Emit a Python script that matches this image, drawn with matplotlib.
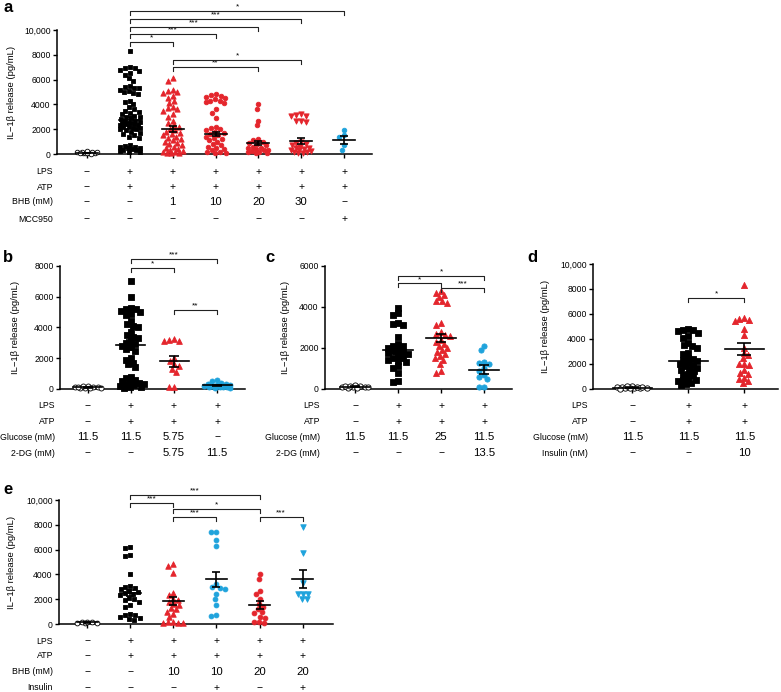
import numpy as np
import matplotlib
matplotlib.use("Agg")
import matplotlib.pyplot as plt
from matplotlib.transforms import blended_transform_factory

plt.rcParams['font.family'] = ['Liberation Sans', 'DejaVu Sans']

RED = '#e4252c'
BLUE = '#1fa3dc'
BLACK = '#000000'

W, H = 781, 692

# ---------------- data ----------------
# Panel a
a_ctrl = [50, 80, 100, 120, 150, 180, 200, 60, 90, 140, 250, 30]
a_lps = [8300, 7000, 6950, 6900, 6800, 6700, 6500, 6400, 6100, 5900,
         5500, 5400, 5300, 5300, 5200, 5100, 5000, 4900, 4800,
         4300, 4200, 4000, 3800, 3600, 3500, 3400, 3300, 3200, 3100, 3000, 3000,
         2900, 2800, 2700, 2700, 2600, 2500, 2500, 2400, 2400, 2300, 2300, 2200,
         2200, 2100, 2100, 2000, 2000, 1900, 1800, 1700, 1600, 1500, 1400, 1300,
         700, 650, 600, 550, 500, 450, 400, 350, 300, 250, 200, 150]
a_bhb1 = [6100, 5900, 5200, 5100, 5000, 4900, 4700, 4500, 4300, 4100, 3800, 3700,
          3600, 3500, 3200, 3000, 2700, 2500, 2300, 2200, 2000, 1900, 1800, 1700,
          1600, 1500, 1400, 1300, 1200, 1100, 1000, 900, 800, 700, 600, 500, 400,
          300, 250, 200, 150, 100, 100, 50]
a_bhb10 = [4800, 4750, 4700, 4600, 4500, 4400, 4300, 4250, 4200, 4100, 3600, 3300,
           2900, 2200, 2100, 2000, 1900, 1800, 1700, 1600, 1500, 1400, 1300, 1200,
           1100, 1000, 800, 700, 600, 500, 400, 300, 200, 150, 100, 50]
a_bhb20 = [4000, 3600, 2700, 2300, 1200, 1100, 1000, 900, 800, 700, 600, 500, 450,
           400, 350, 300, 250, 200, 150, 100, 50]
a_bhb30 = [3200, 3150, 3100, 3050, 2700, 2650, 2600, 1000, 900, 800, 700, 600, 500,
           450, 400, 350, 300, 250, 200, 150, 100, 50]
a_mcc = [1950, 1500, 1350, 700, 350]
a_means = [100, 2750, 2030, 1640, 890, 1070, 1120]
a_sems = [20, 200, 260, 170, 190, 250, 310]

# Panel b
b_ctrl = [50, 80, 100, 150, 120, 200, 60, 90, 140, 170]
b_lps = [7000, 6000, 5300, 5200, 5200, 5100, 5000, 4900, 4800, 4400, 4200, 4100,
         4000, 3700, 3500, 3400, 3300, 3100, 3000, 2900, 2800, 2700, 2600, 2500,
         2000, 1900, 1700, 1600, 1400, 800, 700, 600, 500, 450, 400, 350, 300,
         250, 200, 150, 100, 50]
b_glc = [3250, 3200, 3150, 3100, 2000, 1800, 1600, 1500, 1300, 1100, 100, 100]
b_2dg = [600, 500, 400, 350, 300, 250, 250, 200, 200, 150, 150, 100, 100, 50, 50]
b_means = [110, 2850, 1790, 230]
b_sems = [15, 320, 340, 40]

# Panel c
c_ctrl = [50, 80, 100, 150, 120, 200, 60, 90, 140, 170]
c_lps = [3950, 3700, 3600, 3200, 3150, 3100, 2550, 2200, 2100, 2100, 2000, 1900,
         1850, 1800, 1750, 1700, 1600, 1500, 1500, 1400, 1350, 1300, 1100, 1000,
         800, 400, 350]
c_glc25 = [4800, 4700, 4600, 4500, 4300, 4300, 4200, 3200, 3100, 2800, 2700, 2650,
           2600, 2400, 2300, 2200, 2100, 2000, 1900, 1800, 1700, 1600, 1500, 1400,
           1200, 900, 800]
c_2dg = [2100, 1900, 1300, 1250, 1200, 1000, 900, 700, 600, 500, 100, 100]
c_means = [110, 1880, 2500, 950]
c_sems = [15, 180, 200, 200]

# Panel d
d_ctrl = [50, 80, 100, 150, 120, 250, 60, 90, 140, 170, 200, 30]
d_lps = [4800, 4750, 4700, 4600, 4500, 4200, 4100, 3700, 3500, 3400, 3300, 2900,
         2800, 2500, 2400, 2300, 2200, 2100, 2000, 1900, 1800, 1700, 1600, 1500,
         1400, 1200, 1100, 1000, 800, 700, 700, 600, 500, 400, 300]
d_ins = [8300, 5700, 5600, 5500, 5400, 4800, 4300, 3300, 2900, 2700, 2500, 2000,
         2000, 1900, 1500, 1300, 1200, 900, 800, 600, 500]
d_means = [110, 2200, 3200]
d_sems = [15, 230, 450]

# Panel e
e_ctrl = [60, 100, 150, 200, 120, 180]
e_lps = [6200, 6100, 5600, 5500, 4000, 3100, 3000, 2900, 2800, 2700, 2600, 2500,
         2400, 2300, 2100, 2000, 1900, 1800, 1500, 1400, 800, 700, 700, 600, 500,
         400, 300]
e_bhb10 = [4800, 4700, 4100, 2500, 2300, 2000, 1900, 1800, 1600, 1500, 1300, 1200,
           1000, 800, 600, 200, 150, 100, 100, 100]
e_bhb10_ins = [7400, 7400, 6800, 6300, 3200, 3000, 2900, 2800, 2400, 2000, 1500,
               700, 650]
e_bhb20 = [4000, 3600, 2700, 2400, 2000, 1600, 1400, 1200, 1000, 900, 600, 500,
           200, 200, 100]
e_bhb20_ins = [7800, 5700, 3300, 2400, 2400, 2400, 2000, 2000]
e_means = [130, 2500, 1850, 3600, 1500, 3650]
e_sems = [20, 250, 350, 620, 320, 730]

# condition rows
a_rows = [("LPS", ["−", "+", "+", "+", "+", "+", "+"]),
          ("ATP", ["−", "+", "+", "+", "+", "+", "+"]),
          ("BHB (mM)", ["−", "−", "1", "10", "20", "30", "−"]),
          ("MCC950", ["−", "−", "−", "−", "−", "−", "+"])]
b_rows = [("LPS", ["−", "+", "+", "+"]),
          ("ATP", ["−", "+", "+", "+"]),
          ("Glucose (mM)", ["11.5", "11.5", "5.75", "−"]),
          ("2-DG (mM)", ["−", "−", "5.75", "11.5"])]
c_rows = [("LPS", ["−", "+", "+", "+"]),
          ("ATP", ["−", "+", "+", "+"]),
          ("Glucose (mM)", ["11.5", "11.5", "25", "11.5"]),
          ("2-DG (mM)", ["−", "−", "−", "13.5"])]
d_rows = [("LPS", ["−", "+", "+"]),
          ("ATP", ["−", "+", "+"]),
          ("Glucose (mM)", ["11.5", "11.5", "11.5"]),
          ("Insulin (nM)", ["−", "−", "10"])]
e_rows = [("LPS", ["−", "+", "+", "+", "+", "+"]),
          ("ATP", ["−", "+", "+", "+", "+", "+"]),
          ("BHB (mM)", ["−", "−", "10", "10", "20", "20"]),
          ("Insulin", ["−", "−", "−", "+", "−", "+"])]

# significance brackets: (from, to, level, label)
a_sig = [(1, 6, 11550, "*"), (1, 5, 10900, "***"), (1, 4, 10250, "***"),
         (1, 3, 9650, "***"), (1, 2, 9050, "*"), (2, 5, 7600, "*"), (2, 4, 7000, "**")]
b_sig = [(1, 3, 8450, "***"), (1, 2, 7870, "*"), (2, 3, 5140, "**")]
c_sig = [(1, 3, 5500, "*"), (1, 2, 5150, "*"), (2, 3, 4950, "***")]
d_sig = [(1, 2, 7250, "*")]
e_sig = [(1, 4, 10400, "***"), (1, 2, 9750, "***"), (2, 4, 9250, "*"),
         (2, 3, 8650, "***"), (4, 5, 8650, "***")]

OPEN = dict(marker='o', fc='white', ec=BLACK)
SQ = dict(marker='s', fc=BLACK, ec=BLACK)
TRI = dict(marker='^', fc=RED, ec=RED)
RC = dict(marker='o', fc=RED, ec=RED)
DTRI = dict(marker='v', fc=RED, ec=RED)
BC = dict(marker='o', fc=BLUE, ec=BLUE)
BDT = dict(marker='v', fc=BLUE, ec=BLUE)

fig = plt.figure(figsize=(W / 100, H / 100), dpi=100)


def px_axes(left, right, top, bottom):
    return fig.add_axes([left / W, 1 - bottom / H, (right - left) / W, (bottom - top) / H])


def swarm(values, d, wmax, ppx, ppy):
    """Column scatter: each point placed at the x nearest the centre where it does
    not overlap earlier points; limited to +/- wmax px (overlap allowed beyond)."""
    values = np.asarray(values, float)
    order = np.argsort(-values)
    grid = np.arange(-wmax, wmax + 0.01, 0.5)
    grid = grid[np.lexsort((grid, np.abs(grid)))]
    placed_x, placed_y = [], []
    offs = np.zeros(len(values))
    for i in order:
        y = values[i] * ppy
        if placed_x:
            px = np.array(placed_x)
            py = np.array(placed_y)
            dist = np.sqrt((grid[:, None] - px[None, :]) ** 2 + (y - py[None, :]) ** 2).min(axis=1)
            ok = np.where(dist >= d)[0]
            c = grid[ok[0]] if len(ok) else grid[np.argmax(dist)]
        else:
            c = 0.0
        placed_x.append(c)
        placed_y.append(y)
        offs[i] = c
    return offs / ppx


def fmt(v):
    v = int(v)
    return f"{v:,}" if v >= 10000 else str(v)


def panel(ax, groups, styles, means, sems, ymax, ylabel_x, left_px, width_px, rows,
          label_right_px, row_ys, sig, xlim, wmax, mhalf, cap, msz):
    n = len(groups)
    ax.set_xlim(*xlim)
    ax.set_ylim(0, ymax)
    p0 = ax.transData.transform((0, 0))
    p1 = ax.transData.transform((1, 1))
    ppx = p1[0] - p0[0]
    ppy = p1[1] - p0[1]
    for i, (g, st) in enumerate(zip(groups, styles)):
        offs = swarm(g, 5.0, wmax, ppx, ppy)
        ms = msz * 1.3 if st['marker'] in ('^', 'v') else msz
        ax.scatter(i + offs, g, s=ms, marker=st['marker'], facecolors=st['fc'],
                   edgecolors=st['ec'], linewidths=0.6, zorder=3, clip_on=False)
    hw = mhalf / ppx
    for i, (m, s) in enumerate(zip(means, sems)):
        ax.plot([i - hw, i + hw], [m, m], color=BLACK, lw=1.2, zorder=4, clip_on=False)
        ax.errorbar([i], [m], yerr=[s], fmt='none', ecolor=BLACK, elinewidth=1.2,
                    capsize=cap, capthick=1.2, zorder=4)
    ax.spines['top'].set_visible(False)
    ax.spines['right'].set_visible(False)
    ax.spines['left'].set_linewidth(1.1)
    ax.spines['bottom'].set_linewidth(1.1)
    ax.set_yticks(np.arange(0, ymax + 1, 2000))
    ax.set_yticklabels([fmt(v) for v in np.arange(0, ymax + 1, 2000)], fontsize=6.2)
    ax.set_xticks(range(n))
    ax.set_xticklabels([])
    ax.tick_params(axis='both', length=3, width=1.0, pad=1.5)
    ax.set_ylabel("IL−1β release (pg/mL)", fontsize=6.8)
    ax.yaxis.set_label_coords((ylabel_x - left_px) / width_px, 0.5)
    # condition rows
    tr = blended_transform_factory(ax.transData, fig.transFigure)
    for (lab, vals), ypx in zip(rows, row_ys):
        fy = 1 - ypx / H
        fig.text(label_right_px / W, fy, lab, fontsize=6.3, ha='right', va='center')
        for i, v in enumerate(vals):
            fs = 7.5 if v in ("+", "−") else 8.2
            ax.text(i, fy, v, transform=tr, fontsize=fs, ha='center', va='center')
    # brackets
    drop = 4 / ppy
    for (i, j, y, lab) in sig:
        ax.plot([i, i, j, j], [y - drop, y, y, y - drop], color='#222222', lw=0.8,
                clip_on=False, zorder=5)
        ax.text((i + j) / 2, y + 0.5 / ppy, lab, fontsize=6, ha='center', va='bottom')


# Panel a
axa = px_axes(57, 372, 30, 154)
panel(axa, [a_ctrl, a_lps, a_bhb1, a_bhb10, a_bhb20, a_bhb30, a_mcc],
      [OPEN, SQ, TRI, RC, RC, DTRI, BC], a_means, a_sems, 10000, 16, 57, 315,
      a_rows, 53, [172, 187, 202, 219], a_sig, (-0.7, 6.65), 10, 11, 3, 11)

# Panel b
axb = px_axes(60, 245, 266, 389)
panel(axb, [b_ctrl, b_lps, b_glc, b_2dg], [OPEN, SQ, TRI, BC], b_means, b_sems,
      8000, 20, 60, 185, b_rows, 55, [406, 422, 437, 453], b_sig, (-0.65, 3.65),
      13, 14.5, 3.5, 13)

# Panel c
axc = px_axes(325, 512, 266, 389)
panel(axc, [c_ctrl, c_lps, c_glc25, c_2dg], [OPEN, SQ, TRI, BC], c_means, c_sems,
      6000, 290, 325, 187, c_rows, 320, [406, 422, 437, 453], c_sig, (-0.7, 3.65),
      13, 15, 3.5, 14)

# Panel d
axd = px_axes(593, 778, 264, 389)
panel(axd, [d_ctrl, d_lps, d_ins], [OPEN, SQ, TRI], d_means, d_sems, 10000, 550,
      593, 185, d_rows, 588, [406, 422, 437, 453], d_sig, (-0.7, 2.6),
      16, 19.5, 5, 15)

# Panel e
axe = px_axes(59, 333, 500, 624)
panel(axe, [e_ctrl, e_lps, e_bhb10, e_bhb10_ins, e_bhb20, e_bhb20_ins],
      [OPEN, SQ, TRI, BC, RC, BDT], e_means, e_sems, 10000, 16, 59, 274,
      e_rows, 53, [641, 656, 672, 688], e_sig, (-0.65, 5.7), 10, 10.5, 3, 12)

for lab, x, y in [("a", 3, 8), ("b", 3, 257), ("c", 265, 257), ("d", 527, 257), ("e", 3, 490)]:
    fig.text(x / W, 1 - y / H, lab, fontsize=12, fontweight='bold', va='center', ha='left')

fig.savefig("out.png", dpi=100)
